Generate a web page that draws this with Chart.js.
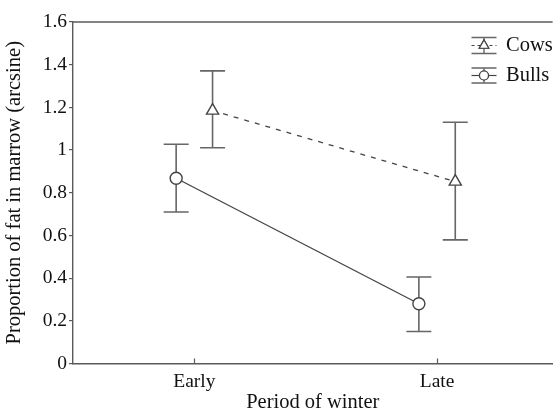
<!DOCTYPE html>
<html>
<head>
<meta charset="utf-8">
<script src="https://cdn.jsdelivr.net/npm/chart.js@4"></script>
<style>
  html, body { margin: 0; padding: 0; background: #fff; overflow: hidden; width: 555px; height: 416px; }
  canvas { display: block; }
</style>
</head>
<body>
<canvas id="c" width="561" height="416"></canvas>
<script>
// ---- data ----
const categories = ['Early', 'Late'];
const seriesNames = ['Cows', 'Bulls'];
const cowsMean  = [1.185, 0.852];
const cowsLow   = [1.011, 0.579];
const cowsHigh  = [1.371, 1.130];
const bullsMean = [0.868, 0.280];
const bullsLow  = [0.710, 0.150];
const bullsHigh = [1.027, 0.405];
const yTickValues = [0, 0.2, 0.4, 0.6, 0.8, 1, 1.2, 1.4, 1.6];
const yTickLabels = ['0', '0.2', '0.4', '0.6', '0.8', '1', '1.2', '1.4', '1.6'];

// ---- styling ----
const FONT = 'Liberation Serif';
const FS = 19.5;
const FT = 20.5;
const AXIS = '#5a5a5a';
const LINE = '#444';
const BAR = '#666';
const DODGE = 0.075;     // horizontal offset of each series around its category
const X_MIN = -0.5, X_MAX = 1.476;

function pts(vals, off) { return vals.map((v, i) => ({ x: i + off, y: v })); }

const seriesStyle = [
  { name: seriesNames[0], mean: cowsMean, lo: cowsLow, hi: cowsHigh, off: DODGE, point: 'triangle', radius: 7, dash: [5, 6] },
  { name: seriesNames[1], mean: bullsMean, lo: bullsLow, hi: bullsHigh, off: -DODGE, point: 'circle', radius: 6, dash: [] }
];

const errorBars = {
  id: 'errorBars',
  beforeDatasetsDraw(chart) {
    const { ctx, scales: { x, y } } = chart;
    ctx.save();
    ctx.strokeStyle = BAR;
    ctx.lineWidth = 1.6;
    seriesStyle.forEach(s => {
      s.mean.forEach((m, i) => {
        const px = x.getPixelForValue(i + s.off);
        const pl = y.getPixelForValue(s.lo[i]);
        const ph = y.getPixelForValue(s.hi[i]);
        const cw = 12.5;
        ctx.beginPath();
        ctx.moveTo(px, pl); ctx.lineTo(px, ph);
        ctx.moveTo(px - cw, pl); ctx.lineTo(px + cw, pl);
        ctx.moveTo(px - cw, ph); ctx.lineTo(px + cw, ph);
        ctx.stroke();
      });
    });
    ctx.restore();
  }
};

const frame = {
  id: 'frame',
  afterDraw(chart) {
    const { ctx, chartArea: a, scales: { x } } = chart;
    ctx.save();
    ctx.strokeStyle = AXIS;
    ctx.lineWidth = 1.4;
    ctx.beginPath();
    ctx.moveTo(a.left, a.top); ctx.lineTo(a.right, a.top);
    ctx.stroke();
    // inward ticks on x axis
    ctx.lineWidth = 1.2;
    categories.forEach((c, i) => {
      const px = Math.round(x.getPixelForValue(i)) + 0.5;
      ctx.beginPath();
      ctx.moveTo(px, a.bottom); ctx.lineTo(px, a.bottom - 5);
      ctx.stroke();
    });
    // legend
    const iconX = 484, textX = 506, rowY = [45.5, 75.5], halfH = [8, 7.5];
    seriesStyle.forEach((s, k) => {
      const cy = rowY[k], hh = halfH[k];
      ctx.strokeStyle = BAR;
      ctx.lineWidth = 1.4;
      ctx.beginPath();
      ctx.moveTo(iconX - 12.5, cy - hh); ctx.lineTo(iconX + 12.5, cy - hh);
      ctx.moveTo(iconX - 12.5, cy + hh); ctx.lineTo(iconX + 12.5, cy + hh);
      ctx.moveTo(iconX, cy - hh); ctx.lineTo(iconX, cy + hh);
      ctx.stroke();
      ctx.strokeStyle = LINE;
      ctx.lineWidth = 1.2;
      ctx.setLineDash(s.dash.length ? [3, 3] : []);
      ctx.beginPath();
      ctx.moveTo(iconX - 12.5, cy); ctx.lineTo(iconX + 12.5, cy);
      ctx.stroke();
      ctx.setLineDash([]);
      Chart.helpers.drawPoint(ctx, {
        pointStyle: s.point, radius: s.radius - 1.5, borderWidth: 1.3, rotation: 0
      }, iconX, cy);
      ctx.fillStyle = '#fff';
      ctx.fill();
      ctx.strokeStyle = LINE;
      ctx.stroke();
      ctx.fillStyle = '#111';
      ctx.font = FT + 'px "' + FONT + '"';
      ctx.textBaseline = 'middle';
      ctx.textAlign = 'left';
      ctx.fillText(s.name, textX, cy);
    });
    ctx.restore();
  }
};

new Chart(document.getElementById('c'), {
  type: 'line',
  data: {
    datasets: seriesStyle.map(s => ({
      label: s.name,
      data: pts(s.mean, s.off),
      borderColor: LINE,
      borderWidth: 1.3,
      borderDash: s.dash,
      pointStyle: s.point,
      pointRadius: s.radius,
      pointBorderWidth: 1.4,
      pointBorderColor: LINE,
      pointBackgroundColor: '#fff',
      fill: false,
      tension: 0
    }))
  },
  options: {
    responsive: false,
    animation: false,
    devicePixelRatio: 1,
    layout: { padding: { top: 22, right: 0, left: 0, bottom: 0 } },
    plugins: { legend: { display: false }, tooltip: { enabled: false } },
    scales: {
      x: {
        type: 'linear',
        min: X_MIN, max: X_MAX,
        afterBuildTicks(sc) { sc.ticks = categories.map((c, i) => ({ value: i })); },
        afterFit(sc) { sc.height = 52.5; },
        ticks: {
          callback: (v) => categories[Math.round(v)] ?? '',
          color: '#111', font: { family: FONT, size: FS }, padding: 7, maxRotation: 0, autoSkip: false
        },
        grid: { drawOnChartArea: false, drawTicks: false },
        border: { display: true, color: AXIS, width: 1.4 },
        title: { display: true, text: 'Period of winter', color: '#111', font: { family: FONT, size: FT }, padding: { top: 0, bottom: 1 } }
      },
      y: {
        type: 'linear',
        min: 0, max: 1.6,
        afterBuildTicks(sc) { sc.ticks = yTickValues.map(v => ({ value: v })); },
        afterFit(sc) { sc.width = 73; },
        ticks: {
          callback: (v) => yTickLabels[yTickValues.findIndex(t => Math.abs(t - v) < 1e-9)],
          color: '#111', font: { family: FONT, size: FS }, padding: 2
        },
        grid: { drawOnChartArea: false, drawTicks: true, tickLength: 4, color: AXIS, lineWidth: 1.2 },
        border: { display: true, color: AXIS, width: 1.4 },
        title: { display: true, text: 'Proportion of fat in marrow (arcsine)', color: '#111', font: { family: FONT, size: FT }, padding: { top: 2, bottom: 0 } }
      }
    }
  },
  plugins: [errorBars, frame]
});
</script>
</body>
</html>
